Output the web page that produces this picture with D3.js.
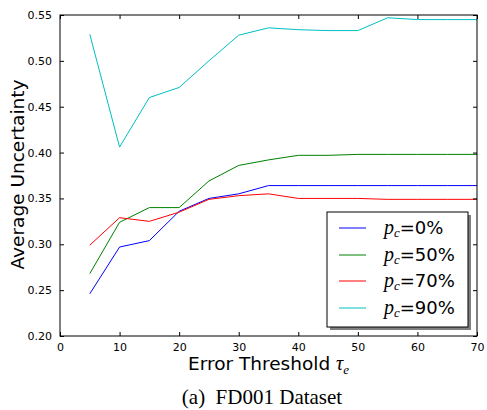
<!DOCTYPE html>
<html>
<head>
<meta charset="utf-8">
<script src="https://cdn.jsdelivr.net/npm/d3@7"></script>
<style>
  html, body { margin: 0; padding: 0; background: #fff; }
  svg { display: block; }
</style>
</head>
<body>
<svg id="chart" width="487" height="410"></svg>
<script>
const thresholds = [5, 10, 15, 20, 25, 30, 35, 40, 45, 50, 55, 60, 65, 70];
const seriesLabels = ["0%", "50%", "70%", "90%"];
const seriesColors = ["#0000ff", "#008000", "#ff0000", "#00bfbf"];
const pc0  = [0.246, 0.297, 0.304, 0.336, 0.350, 0.355, 0.364, 0.364, 0.364, 0.364, 0.364, 0.364, 0.364, 0.364];
const pc50 = [0.268, 0.324, 0.340, 0.340, 0.369, 0.386, 0.392, 0.397, 0.397, 0.398, 0.398, 0.398, 0.398, 0.398];
const pc70 = [0.299, 0.329, 0.325, 0.335, 0.349, 0.353, 0.355, 0.350, 0.350, 0.350, 0.349, 0.349, 0.349, 0.349];
const pc90 = [0.529, 0.406, 0.460, 0.471, 0.500, 0.528, 0.536, 0.534, 0.533, 0.533, 0.547, 0.545, 0.545, 0.545];
const seriesValues = [pc0, pc50, pc70, pc90];
const xTicks = [0, 10, 20, 30, 40, 50, 60, 70];
const yTicks = [0.20, 0.25, 0.30, 0.35, 0.40, 0.45, 0.50, 0.55];

const svg = d3.select("#chart");
const L = 60, R = 477, T = 15, B = 336;
const x = d3.scaleLinear().domain([0, 70]).range([L, R]);
const y = d3.scaleLinear().domain([0.20, 0.55]).range([B, T]);

// lines
const line = d3.line().x((d, i) => x(thresholds[i])).y(d => y(d));
seriesValues.forEach((vals, k) => {
  svg.append("path").datum(vals)
    .attr("d", line)
    .attr("fill", "none")
    .attr("stroke", seriesColors[k])
    .attr("stroke-width", 1);
});

// axes (ticks inward, all four sides)
const tickFont = "DejaVu Sans";
function styleAxis(g) {
  g.select(".domain").remove();
  g.selectAll("text").attr("font-family", tickFont).attr("font-size", 11).attr("fill", "#000");
  g.selectAll("line").attr("stroke", "#000");
}
svg.append("g").attr("transform", `translate(0,${B})`)
  .call(d3.axisBottom(x).tickValues(xTicks).tickFormat(d3.format("d")).tickSizeInner(-4).tickPadding(7))
  .call(styleAxis);
svg.append("g").attr("transform", `translate(${L},0)`)
  .call(d3.axisLeft(y).tickValues(yTicks).tickFormat(d3.format(".2f")).tickSizeInner(-4).tickPadding(8))
  .call(styleAxis);
svg.append("g").attr("transform", `translate(0,${T})`)
  .call(d3.axisTop(x).tickValues(xTicks).tickSizeInner(-4).tickFormat(""))
  .call(styleAxis);
svg.append("g").attr("transform", `translate(${R},0)`)
  .call(d3.axisRight(y).tickValues(yTicks).tickSizeInner(-4).tickFormat(""))
  .call(styleAxis);

// frame
svg.append("rect").attr("x", L).attr("y", T).attr("width", R - L).attr("height", B - T)
  .attr("fill", "none").attr("stroke", "#000").attr("stroke-width", 1);

// legend
const lg = svg.append("g");
const lx = 327, ly = 212, lw = 141, lh = 115;
lg.append("rect").attr("x", lx + 3).attr("y", ly + 3).attr("width", lw).attr("height", lh).attr("fill", "#808080");
lg.append("rect").attr("x", lx).attr("y", ly).attr("width", lw).attr("height", lh)
  .attr("fill", "#fff").attr("stroke", "#000").attr("stroke-width", 1);
const rowY = [228, 255, 281, 308];
seriesLabels.forEach((lab, k) => {
  lg.append("line").attr("x1", 339).attr("x2", 366).attr("y1", rowY[k]).attr("y2", rowY[k])
    .attr("stroke", seriesColors[k]).attr("stroke-width", 1);
  const t = lg.append("text").attr("x", 384).attr("y", rowY[k] + 6)
    .attr("font-family", "DejaVu Sans").attr("font-size", 18).attr("fill", "#000");
  t.append("tspan").attr("font-family", "Liberation Serif").attr("font-style", "italic").attr("font-size", 20).text("p");
  t.append("tspan").attr("font-family", "Liberation Serif").attr("font-style", "italic").attr("font-size", 13).attr("dy", 3).text("c");
  t.append("tspan").attr("dy", -3).text("=" + lab);
});

// axis labels
const xl = svg.append("text").attr("x", (L + R) / 2).attr("y", 370).attr("text-anchor", "middle")
  .attr("font-family", "DejaVu Sans").attr("font-size", 18.5).attr("fill", "#000");
xl.append("tspan").text("Error Threshold ");
xl.append("tspan").attr("font-family", "Liberation Serif").attr("font-style", "italic").attr("font-size", 20).text("τ");
xl.append("tspan").attr("font-family", "Liberation Serif").attr("font-style", "italic").attr("font-size", 13).attr("dy", 4).text("e");

svg.append("text").attr("transform", `translate(24,174.5) rotate(-90)`).attr("text-anchor", "middle")
  .attr("font-family", "DejaVu Sans").attr("font-size", 18.5).attr("fill", "#000")
  .text("Average Uncertainty");

svg.append("text").attr("x", 262).attr("y", 404).attr("text-anchor", "middle")
  .attr("font-family", "Liberation Serif").attr("font-size", 21).attr("fill", "#000")
  .text("(a)\u2002FD001 Dataset");
</script>
</body>
</html>
